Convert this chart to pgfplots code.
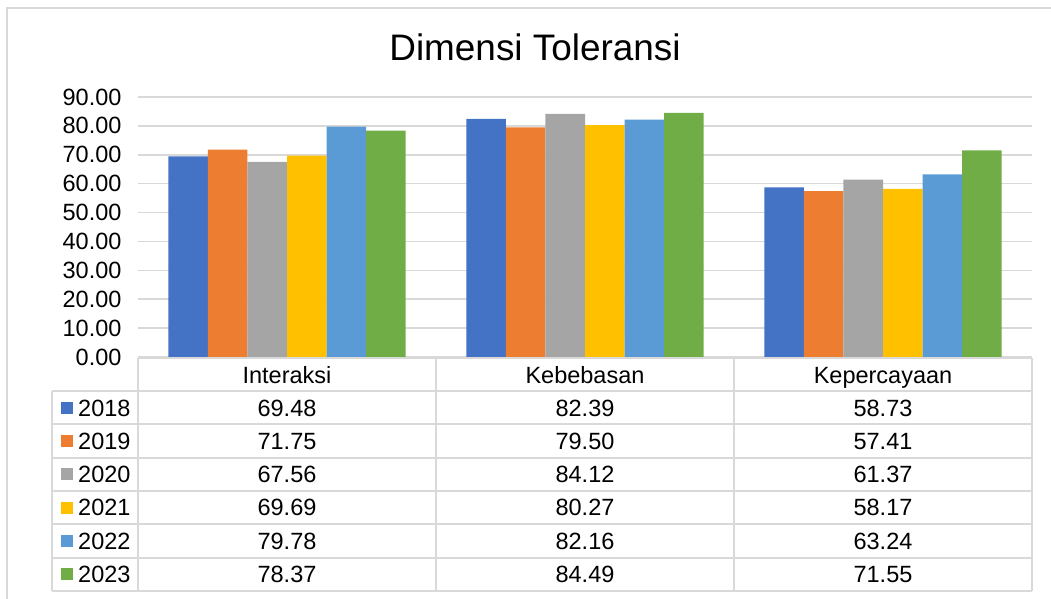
\documentclass[border=0pt]{standalone}
\usepackage{fontspec}
\setmainfont{Liberation Sans}
\usepackage{pgfplots}
\usepackage{pgfplotstable}
\pgfplotsset{compat=1.18}

\definecolor{c0}{HTML}{4472C4}
\definecolor{c1}{HTML}{ED7D31}
\definecolor{c2}{HTML}{A5A5A5}
\definecolor{c3}{HTML}{FFC000}
\definecolor{c4}{HTML}{5B9BD5}
\definecolor{c5}{HTML}{70AD47}
\definecolor{gridc}{HTML}{D9D9D9}

% one row per year, one column per dimension
\pgfplotstableread{
year Interaksi Kebebasan Kepercayaan
2018 69.48 82.39 58.73
2019 71.75 79.50 57.41
2020 67.56 84.12 61.37
2021 69.69 80.27 58.17
2022 79.78 82.16 63.24
2023 78.37 84.49 71.55
}\datatable
\pgfplotstabletranspose[colnames from=year]\bytab\datatable

\newcommand\tabfont{\fontsize{23.5}{28}\selectfont}

\begin{document}
\begin{tikzpicture}[x=1pt,y=1pt]
\useasboundingbox (0,0) rectangle (1051,598);
% chart frame (only top and left edges visible)
\draw[gridc, line width=2pt] (7,-20) -- (7,590) -- (1070,590);

\node[font=\fontsize{36.9}{40}\selectfont, anchor=base, inner sep=0] at (535,537) {Dimensi Toleransi};

\begin{axis}[
    at={(138pt,241pt)}, anchor=south west,
    scale only axis, width=894pt, height=260pt,
    xmin=-0.5, xmax=2.5, ymin=0, ymax=90,
    ytick={0,10,...,90}, xtick=\empty,
    axis line style={draw=none}, major tick length=0pt,
    ymajorgrids, grid style={gridc, line width=1.5pt},
    yticklabel style={font=\tabfont, xshift=-13pt},
    /pgf/number format/assume math mode=true,
    /pgf/number format/.cd, fixed, fixed zerofill, precision=2, /pgfplots/.cd,
    ybar=0pt, bar width=0.1326,
]
\addplot[fill=c0, draw=none] table[x expr=\coordindex, y=2018] {\bytab};
\addplot[fill=c1, draw=none] table[x expr=\coordindex, y=2019] {\bytab};
\addplot[fill=c2, draw=none] table[x expr=\coordindex, y=2020] {\bytab};
\addplot[fill=c3, draw=none] table[x expr=\coordindex, y=2021] {\bytab};
\addplot[fill=c4, draw=none] table[x expr=\coordindex, y=2022] {\bytab};
\addplot[fill=c5, draw=none] table[x expr=\coordindex, y=2023] {\bytab};
\end{axis}

% data table grid
\begin{scope}[gridc, line width=2pt]
\draw (138,240) -- (1032,240);
\foreach \yy in {391,424.3,457.6,490.9,524.2,557.5,590.8}
  \draw (52,598-\yy) -- (1032,598-\yy);
\draw (52,598-391) -- (52,598-590.8);
\foreach \xx in {138,436,734,1032}
  \draw (\xx,240) -- (\xx,598-590.8);
\end{scope}

% header row
\foreach \nm/\xc in {Interaksi/287,Kebebasan/585,Kepercayaan/883}
  \node[font=\tabfont, anchor=base, inner sep=0] at (\xc,{598-(375+8.4)}) {\nm};

% table rows from the data
\foreach \r in {0,...,5} {
  \pgfmathsetmacro\yc{598-(407.6+33.3*\r+8.4)}
  \pgfmathsetmacro\yk{598-(407.6+33.3*\r)}
  \fill[c\r] (61,\yk-6) rectangle (73,\yk+6);
  \pgfplotstablegetelem{\r}{year}\of\datatable
  \node[font=\tabfont, anchor=base west, inner sep=0] at (78,\yc) {\pgfplotsretval};
  \pgfplotstablegetelem{\r}{Interaksi}\of\datatable
  \node[font=\tabfont, anchor=base, inner sep=0] at (287,\yc) {\pgfplotsretval};
  \pgfplotstablegetelem{\r}{Kebebasan}\of\datatable
  \node[font=\tabfont, anchor=base, inner sep=0] at (585,\yc) {\pgfplotsretval};
  \pgfplotstablegetelem{\r}{Kepercayaan}\of\datatable
  \node[font=\tabfont, anchor=base, inner sep=0] at (883,\yc) {\pgfplotsretval};
}
\end{tikzpicture}
\end{document}
